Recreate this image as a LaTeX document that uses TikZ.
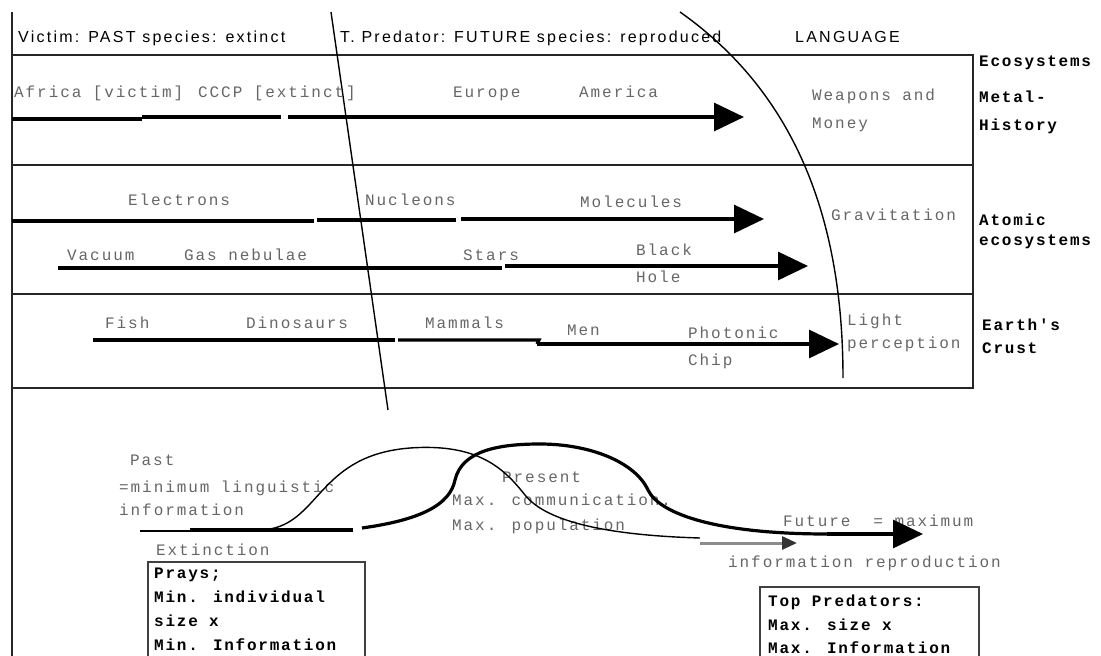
\documentclass[tikz,border=0pt]{standalone}
\usepackage{fontspec}
\usetikzlibrary{arrows.meta}
\newfontfamily\hdrfont[LetterSpace=14]{Liberation Sans}
\newfontfamily\gmono[LetterSpace=12]{Liberation Mono}
\newfontfamily\bmono[LetterSpace=11]{Liberation Mono}
\begin{document}
\begin{tikzpicture}[x=1pt,y=-1pt,
  hdr/.style={font=\hdrfont\fontsize{16}{19}\selectfont, anchor=base west, inner sep=0pt},
  lbl/.style={font=\gmono\fontsize{16}{19}\selectfont, text=black!60, anchor=base west, inner sep=0pt},
  side/.style={font=\bmono\bfseries\fontsize{16}{19}\selectfont, anchor=base west, inner sep=0pt},
  gridline/.style={line width=2pt, black!85},
  tl/.style={line width=3.2pt},
  tlarrow/.style={line width=3.2pt, -{Triangle[length=30pt,width=28pt]}},
  thinline/.style={line width=1.4pt},
  boxline/.style={line width=2pt, black!75},
]
\useasboundingbox (0,0) rectangle (1101,656);
\clip (0,0) rectangle (1101,656);

% ---------- frame ----------
\draw[gridline] (12,12) -- (12,660);
\draw[gridline] (12,55) -- (973,55) -- (973,388) -- (12,388);
\draw[gridline] (12,165) -- (973,165);
\draw[gridline] (12,294) -- (973,294);

% slanted divider and language arc
\coordinate (s1) at (331,12); \coordinate (s2) at (388,410);
\draw[thinline] (s1) -- (s2);
\coordinate (a1) at (680,12); \coordinate (a2) at (843,378);
\draw[thinline] (a1) .. controls (802,98) and (843,230) .. (a2);

% ---------- header ----------
\node[hdr] (h1) at (18,42) {Victim: PAST species: extinct};
\node[hdr] (h2) at (340,42) {T. Predator: FUTURE species: reproduced};
\node[hdr] (h3) at (795,42) {LANGUAGE};

% ---------- side labels ----------
\node[side] (e1) at (979,66) {Ecosystems};
\node[side] (e2) at (979,102) {Metal-};
\node[side] (e3) at (979,130) {History};
\node[side] (e4) at (979,225) {Atomic};
\node[side] (e5) at (979,245) {ecosystems};
\node[side] (e6) at (982,330) {Earth's};
\node[side] (e7) at (982,353) {Crust};

% ---------- row 1 ----------
\node[lbl] (africa) at (14,97) {Africa [victim]};
\node[lbl] (cccp) at (198,97) {CCCP [extinct]};
\node[lbl] (europe) at (453,97) {Europe};
\node[lbl] (america) at (579,97) {America};
\node[lbl] (weap) at (812,100) {Weapons and};
\node[lbl] (money) at (812,128) {Money};
\coordinate (r1a) at (12,119); \coordinate (r1b) at (142,119);
\coordinate (r1c) at (142,117); \coordinate (r1d) at (281,117);
\coordinate (r1e) at (288,117); \coordinate (r1f) at (744,117);
\draw[tl] (r1a) -- (r1b);
\draw[tl] (r1c) -- (r1d);
\draw[tlarrow] (r1e) -- (r1f);

% ---------- row 2 ----------
\node[lbl] (electrons) at (128,205) {Electrons};
\node[lbl] (nucleons) at (365,205) {Nucleons};
\node[lbl] (molecules) at (580,207) {Molecules};
\node[lbl] (gravit) at (831,220) {Gravitation};
\node[lbl] (vacuum) at (67,260) {Vacuum};
\node[lbl] (gas) at (184,260) {Gas nebulae};
\node[lbl] (stars) at (463,260) {Stars};
\node[lbl] (black) at (636,255) {Black};
\node[lbl] (hole) at (636,282) {Hole};
\coordinate (r2a) at (12,221); \coordinate (r2b) at (314,221);
\coordinate (r2c) at (317,220); \coordinate (r2d) at (456,220);
\coordinate (r2e) at (461,219); \coordinate (r2f) at (764,219);
\draw[tl] (r2a) -- (r2b);
\draw[tl] (r2c) -- (r2d);
\draw[tlarrow] (r2e) -- (r2f);
\coordinate (r3a) at (58,268); \coordinate (r3b) at (502,268);
\coordinate (r3c) at (505,266); \coordinate (r3d) at (808,266);
\draw[tl] (r3a) -- (r3b);
\draw[tlarrow] (r3c) -- (r3d);

% ---------- row 3 ----------
\node[lbl] (fish) at (105,328) {Fish};
\node[lbl] (dino) at (246,328) {Dinosaurs};
\node[lbl] (mammals) at (425,328) {Mammals};
\node[lbl] (men) at (567,335) {Men};
\node[lbl] (photonic) at (688,338) {Photonic};
\node[lbl] (chip) at (688,365) {Chip};
\node[lbl] (light) at (847,325) {Light};
\node[lbl] (percep) at (847,348) {perception};
\coordinate (r4a) at (93,340); \coordinate (r4b) at (395,340);
\coordinate (r4c) at (398,340); \coordinate (r4d) at (539,340);
\coordinate (r4e) at (537,344); \coordinate (r4f) at (839,344);
\draw[tl] (r4a) -- (r4b);
\draw[tl] (r4c) -- (r4d) -- (r4e);
\draw[tlarrow] (r4e) -- (r4f);

% ---------- lower part ----------
\node[lbl] (past) at (130,465) {Past};
\node[lbl] (minling) at (119,492) {=minimum linguistic};
\node[lbl] (info1) at (119,515) {information};
\node[lbl] (extinct) at (156,555) {Extinction};
\node[lbl] (present) at (502,482) {Present};
\node[lbl] (maxcom) at (452,505) {Max. communication.};
\node[lbl] (maxpop) at (452,530) {Max. population};
\node[lbl] (future) at (783,526) {Future\ \ = maximum};
\node[lbl] (inforep) at (728,567) {information reproduction};

\coordinate (b0) at (140,531); \coordinate (b1) at (190,531);
\coordinate (b2) at (190,530); \coordinate (b3) at (353,530);
\draw[thinline] (b0) -- (b1);
\draw[tl] (b2) -- (b3);

% thin curve (past -> present)
\coordinate (ca0) at (270,529); \coordinate (ca1) at (410,448);
\coordinate (ca2) at (525,495); \coordinate (ca3) at (700,538);
\draw[thinline] (ca0) .. controls (320,520) and (320,455) .. (ca1)
  .. controls (480,443) and (505,470) .. (ca2)
  .. controls (545,520) and (600,535) .. (ca3);
% gray arrow
\coordinate (g0) at (700,543); \coordinate (g1) at (797,543);
\draw[line width=3pt, black!45, -{Triangle[length=15pt,width=13pt,color=black!80]}] (g0) -- (g1);

% thick curve (present -> future)
\coordinate (cb0) at (362,528); \coordinate (cb1) at (455,480);
\coordinate (cb2) at (540,444); \coordinate (cb3) at (648,490);
\coordinate (cb4) at (827,534); \coordinate (cb5) at (923,534);
\draw[tl] (cb0) .. controls (420,520) and (450,505) .. (cb1)
  .. controls (462,450) and (500,444) .. (cb2)
  .. controls (590,444) and (635,462) .. (cb3)
  .. controls (660,515) and (720,534) .. (cb4);
\draw[tlarrow] (cb4) -- (cb5);

% boxes
\draw[boxline] (148,670) |- (365,562) -- (365,670);
\node[side] (p1) at (154,578) {Prays;};
\node[side] (p2) at (154,602) {Min. individual};
\node[side] (p3) at (154,626) {size x};
\node[side] (p4) at (154,650) {Min. Information};

\draw[boxline] (760,670) |- (979,587) -- (979,670);
\node[side] (t1) at (768,606) {Top Predators:};
\node[side] (t2) at (768,630) {Max. size x};
\node[side] (t3) at (768,653) {Max. Information};
\end{tikzpicture}
\end{document}
